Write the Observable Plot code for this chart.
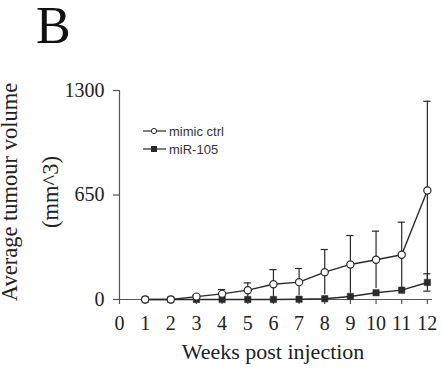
<!DOCTYPE html>
<html><head><meta charset="utf-8">
<script src="https://cdn.jsdelivr.net/npm/d3@7"></script>
<script src="https://cdn.jsdelivr.net/npm/@observablehq/plot@0.6"></script>
<style>
body{margin:0;background:#fff}
#wrap{position:relative;width:443px;height:370px}
.leg{position:absolute;left:142px;font:13px "Liberation Sans",Arial,sans-serif;color:#333;display:flex;align-items:center;white-space:nowrap}
.leg svg{margin-right:2px}
</style></head><body><div id="wrap"></div>
<script>
const weeks = [1,2,3,4,5,6,7,8,9,10,11,12];
const mimicMean = [0,0,18,35,58,95,108,170,218,247,278,678];
const mimicSD   = [0,0,8,27,45,91,85,141,180,178,203,555];
const mirMean   = [0,0,0,0,0,0,2,5,19,42,58,106];
const mirSD     = [0,0,0,0,0,0,0,0,0,0,0,54];
const xTicks = [0,1,2,3,4,5,6,7,8,9,10,11,12];
const yTicks = [0,650,1300];
const seriesNames = ["mimic ctrl","miR-105"];

const mimic = weeks.map((w,i)=>({week:w, mean:mimicMean[i], sd:mimicSD[i]}));
const mir = weeks.map((w,i)=>({week:w, mean:mirMean[i], sd:mirSD[i]}));
const ink = "#2a2a2a";
const capHalf = 0.14;
const serif = '"Liberation Serif","Times New Roman",serif';

const plot = Plot.plot({
  width: 443, height: 370,
  marginLeft: 119, marginRight: 11, marginTop: 90, marginBottom: 71,
  style: {fontFamily: serif, color: "#222", background: "#fff"},
  x: {domain: [0, 12.2], axis: null},
  y: {domain: [0, 1300], axis: null},
  marks: [
    Plot.ruleY([0], {stroke: "#555", strokeWidth: 1.2}),
    Plot.ruleX([0], {stroke: "#555", strokeWidth: 1.2}),
    Plot.axisX({ticks: xTicks, tickSize: 5, tickPadding: 11, fontSize: 20, stroke: "#555", strokeWidth: 1.2, label: null, tickFormat: d => `${d}`}),
    Plot.axisY({ticks: yTicks, tickSize: 6, tickPadding: 9, fontSize: 20, stroke: "#555", strokeWidth: 1.2, label: null, tickFormat: d => `${d}`}),
    // miR-105 series
    Plot.ruleX(mir.filter(d=>d.sd>0), {x: "week", y1: d=>d.mean-d.sd, y2: d=>d.mean+d.sd, stroke: ink, strokeWidth: 1.2}),
    Plot.ruleY(mir.filter(d=>d.sd>0), {y: d=>d.mean+d.sd, x1: d=>d.week-capHalf, x2: d=>d.week+capHalf, stroke: ink, strokeWidth: 1.2}),
    Plot.ruleY(mir.filter(d=>d.sd>0), {y: d=>d.mean-d.sd, x1: d=>d.week-capHalf, x2: d=>d.week+capHalf, stroke: ink, strokeWidth: 1.2}),
    Plot.line(mir, {x: "week", y: "mean", stroke: ink, strokeWidth: 1.4}),
    Plot.dot(mir, {x: "week", y: "mean", symbol: "square", r: 3.6, fill: ink, stroke: ink, strokeWidth: 0.5}),
    // mimic ctrl series
    Plot.ruleX(mimic.filter(d=>d.sd>0), {x: "week", y1: d=>d.mean-d.sd, y2: d=>d.mean+d.sd, stroke: ink, strokeWidth: 1.2}),
    Plot.ruleY(mimic.filter(d=>d.sd>0), {y: d=>d.mean+d.sd, x1: d=>d.week-capHalf, x2: d=>d.week+capHalf, stroke: ink, strokeWidth: 1.2}),
    Plot.line(mimic, {x: "week", y: "mean", stroke: ink, strokeWidth: 1.4}),
    Plot.dot(mimic, {x: "week", y: "mean", r: 3.6, fill: "#fff", stroke: ink, strokeWidth: 1.2})
  ]
});

const svg = d3.select(plot);
svg.append("text").attr("x", 36).attr("y", 43).attr("font-size", 52).attr("fill", "#111")
  .attr("text-anchor", "start").attr("font-family", serif).text("B");
svg.append("text").attr("x", 273).attr("y", 359).attr("text-anchor", "middle").attr("font-size", 22).attr("fill", "#222")
  .attr("font-family", serif).text("Weeks post injection");
const yt = svg.append("text").attr("transform", "translate(0,192) rotate(-90)").attr("text-anchor", "middle")
  .attr("font-size", 22.5).attr("fill", "#222").attr("font-family", serif);
yt.append("tspan").attr("x", 0).attr("y", 17).text("Average tumour volume");
yt.append("tspan").attr("x", 0).attr("y", 58).text("(mm^3)");

const wrap = document.getElementById("wrap");
wrap.appendChild(plot);

// legend
const legTops = [123, 141];
seriesNames.forEach((name, i) => {
  const div = document.createElement("div");
  div.className = "leg";
  div.style.top = legTops[i] + "px";
  const marker = i === 0
    ? `<circle cx="12" cy="8" r="2.6" fill="#fff" stroke="${ink}" stroke-width="1"/>`
    : `<rect x="9" y="5" width="6" height="6" fill="${ink}"/>`;
  div.innerHTML = `<svg width="25" height="16"><line x1="1" x2="24" y1="8" y2="8" stroke="${ink}" stroke-width="1.2"/>${marker}</svg><span>${name}</span>`;
  wrap.appendChild(div);
});
</script>
</body></html>
